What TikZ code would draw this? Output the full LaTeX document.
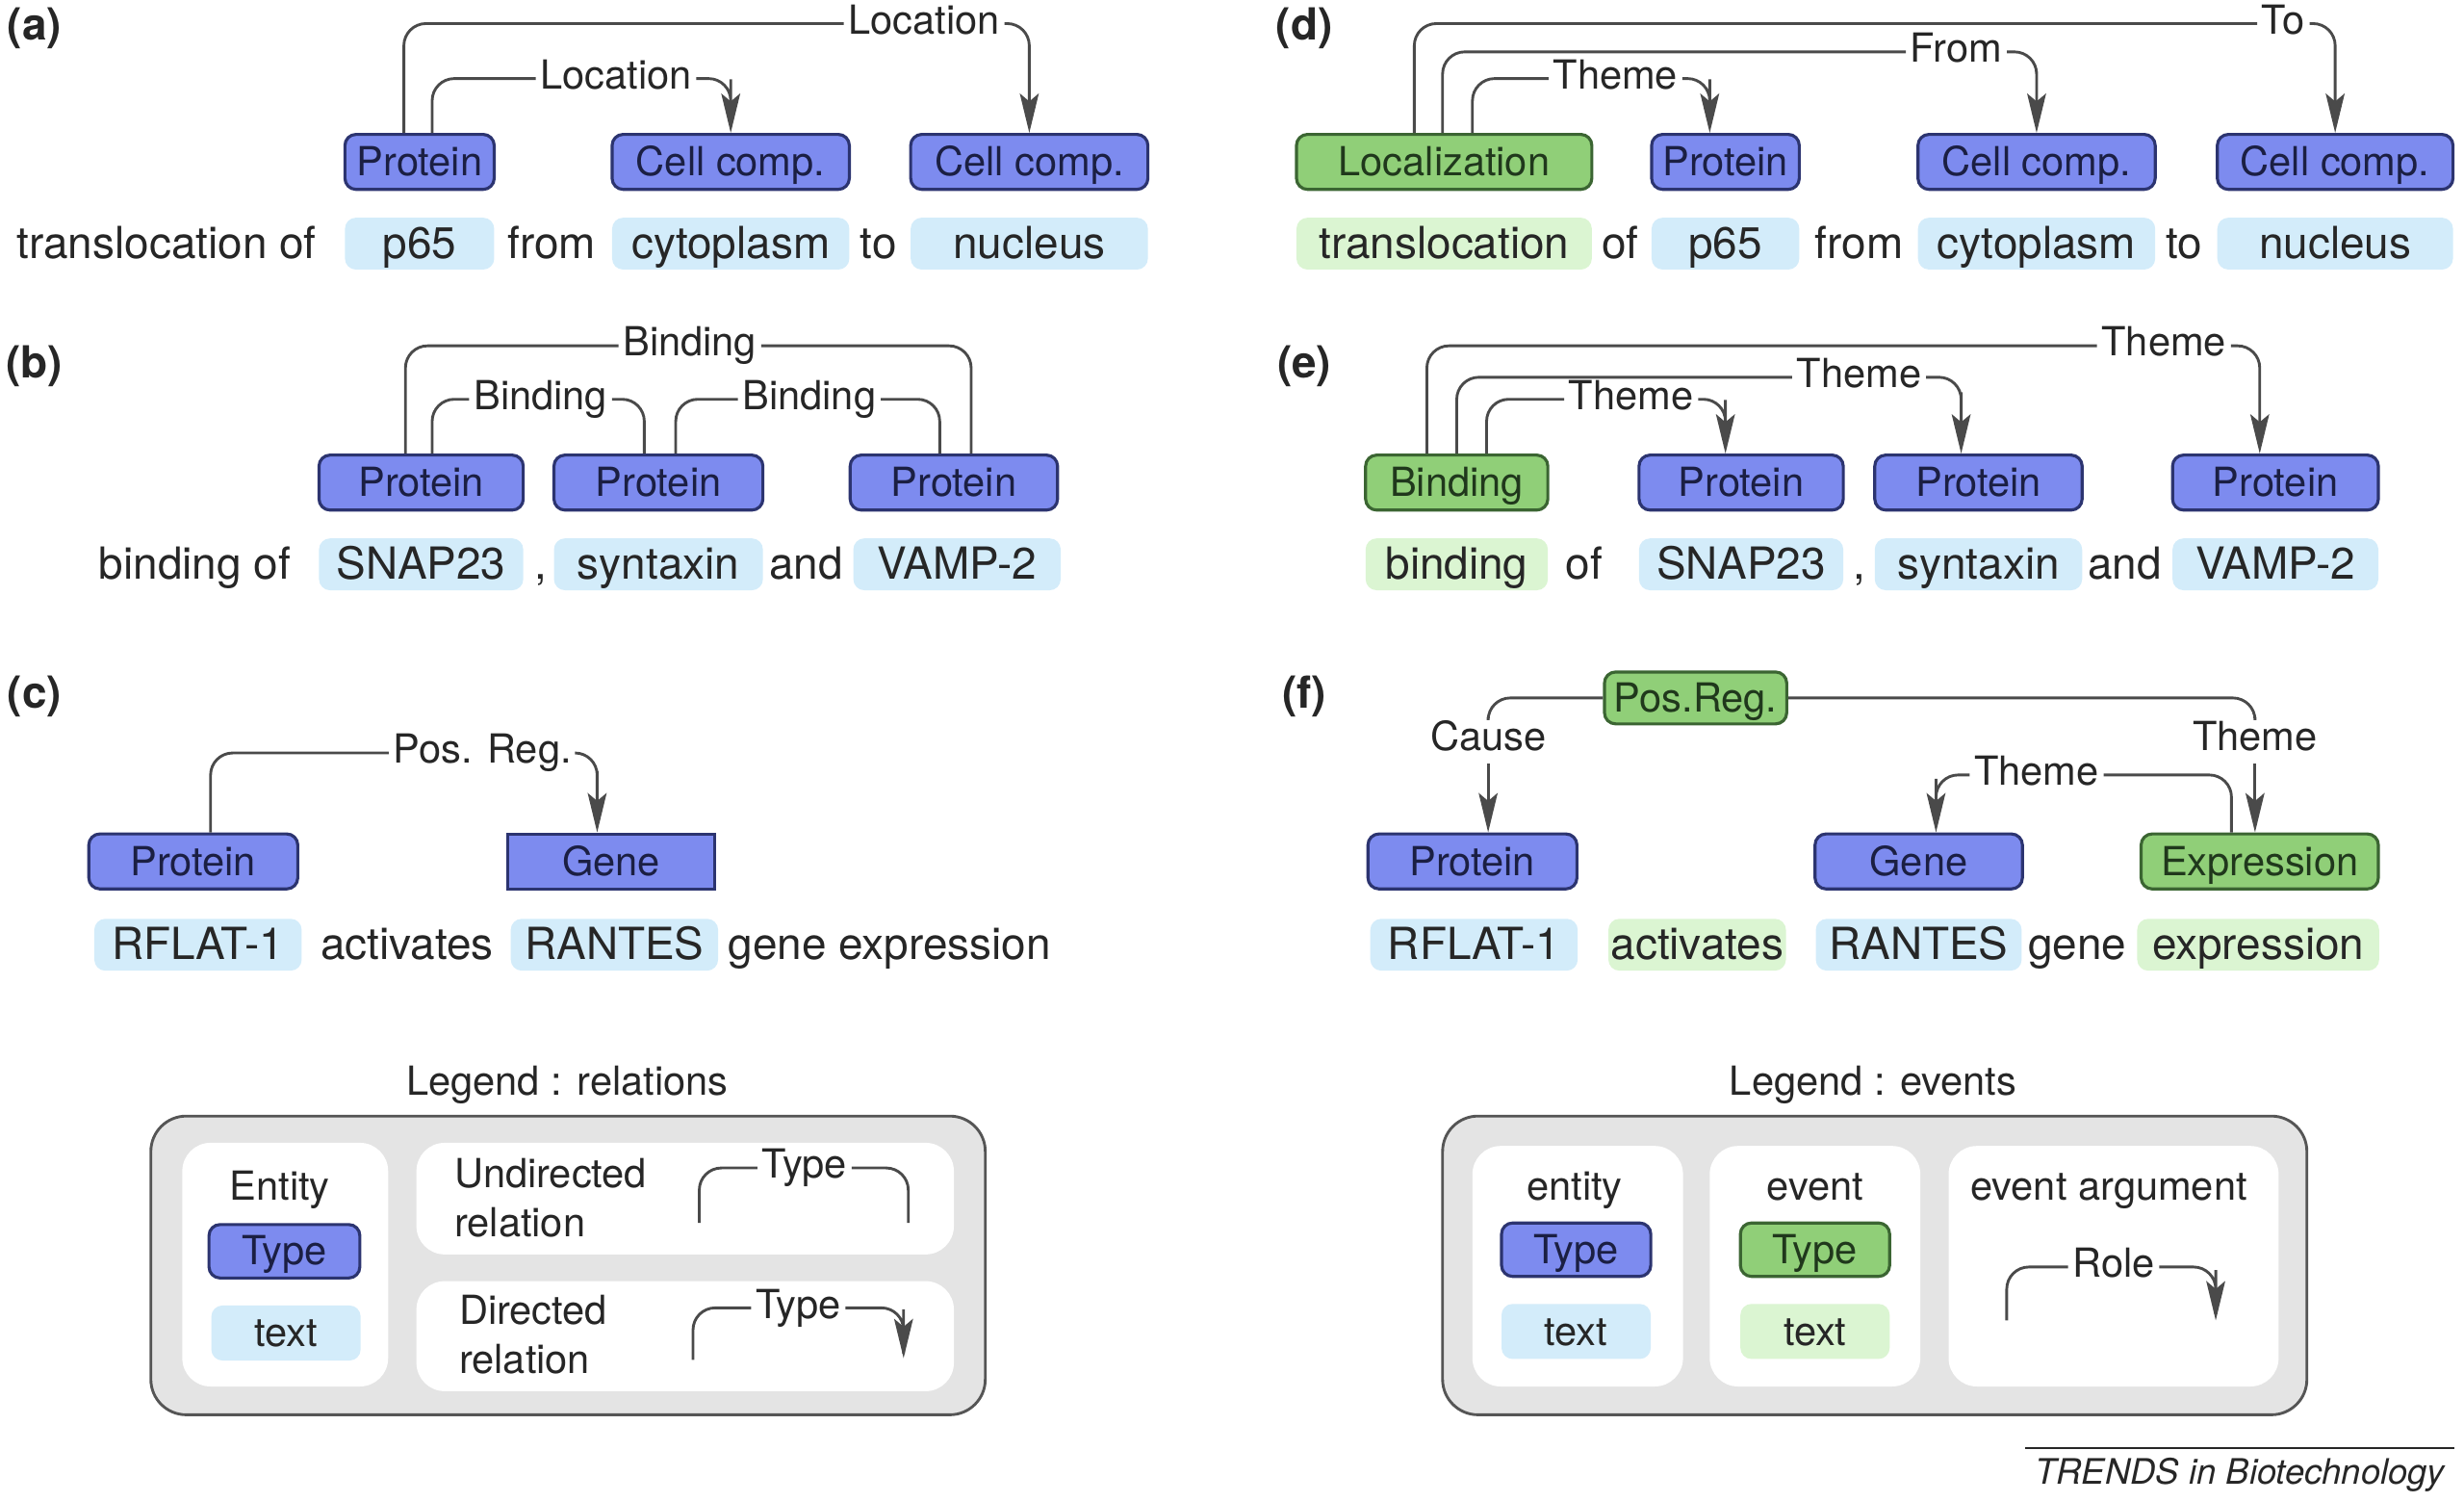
\documentclass[tikz,border=0pt]{standalone}
\usepackage{fontspec}
\setmainfont{TeX Gyre Heros}
\usetikzlibrary{arrows.meta}
\definecolor{entfill}{HTML}{7D8BEF}
\definecolor{entline}{HTML}{2C3470}
\definecolor{evfill}{HTML}{90CF78}
\definecolor{evline}{HTML}{3B6532}
\definecolor{entpale}{HTML}{D3ECFA}
\definecolor{evpale}{HTML}{DBF5D2}
\definecolor{leggray}{HTML}{E4E4E4}
\definecolor{legline}{HTML}{555555}
\definecolor{ink}{HTML}{262626}
\definecolor{relline}{HTML}{4A4A4A}
\tikzset{
  lblfont/.style={font=\fontsize{14.5}{17.6}\selectfont, text=ink},
  lbl/.style={lblfont, inner sep=1.5pt, text height=10.5pt, text depth=3pt},
  tag/.style={font=\fontsize{16}{19}\selectfont\bfseries, text=ink},
  word/.style={font=\fontsize{16}{19}\selectfont, text=ink, inner sep=0pt, text height=11.5pt, text depth=1pt},
  entbox/.style={lbl, text depth=0.5pt, rectangle, rounded corners=4pt, draw=entline, fill=entfill, line width=1.1pt, minimum height=0.7cm, text=entline!60!black},
  evbox/.style={entbox, draw=evline, fill=evfill, text=evline!55!black},
  entword/.style={word, fill=entpale, rounded corners=4pt, minimum height=0.66cm},
  evword/.style={word, fill=evpale, rounded corners=4pt, minimum height=0.66cm},
  legword/.style={lbl, text depth=0.5pt, minimum height=0.7cm, minimum width=1.9cm, rounded corners=4pt},
  rel/.style={draw=relline, line width=1pt, rounded corners=8pt},
  tiprel/.style={draw=relline, line width=1pt, -{Stealth[length=0.5cm, width=0.24cm, inset=0.1cm]}},
  dirrel/.style={rel, tiprel},
  leg/.style={fill=leggray, draw=legline, line width=1pt, rounded corners=0.45cm},
  legpanel/.style={fill=white, rounded corners=0.36cm},
}

\begin{document}
\begin{tikzpicture}[x=0.02cm, y=-0.02cm]
  \useasboundingbox (0,0) rectangle (1568,955);
  % nodes
  %% (a)
  \node[tag] (a0) at (22,18) {(a)};
  \node[entbox, minimum width=1.9cm] (a1) at (267,103) {Protein};
  \node[entbox, minimum width=3.02cm] (a2) at (465,103) {Cell comp.};
  \node[entbox, minimum width=3.02cm] (a3) at (655,103) {Cell comp.};
  \node[word] (a4) at (106,155) {translocation of};
  \node[entword, minimum width=1.9cm] (a5) at (267,155) {p65};
  \node[word] (a6) at (351,155) {from};
  \node[entword, minimum width=3.02cm] (a7) at (465,155) {cytoplasm};
  \node[word] (a8) at (559,155) {to};
  \node[entword, minimum width=3.02cm] (a9) at (655,155) {nucleus};
  \node[lbl] (a10) at (588,15) {Location};
  \node[lbl] (a11) at (392,50) {Location};
  %% (d)
  \node[tag] (d0) at (830,18) {(d)};
  \node[evbox, minimum width=3.76cm] (d1) at (919,103) {Localization};
  \node[entbox, minimum width=1.88cm] (d2) at (1098,103) {Protein};
  \node[entbox, minimum width=3.02cm] (d3) at (1296,103) {Cell comp.};
  \node[entbox, minimum width=3cm] (d4) at (1486,103) {Cell comp.};
  \node[evword, minimum width=3.76cm] (d5) at (919,155) {translocation};
  \node[word] (d6) at (1031,155) {of};
  \node[entword, minimum width=1.88cm] (d7) at (1098,155) {p65};
  \node[word] (d8) at (1183,155) {from};
  \node[entword, minimum width=3.02cm] (d9) at (1296,155) {cytoplasm};
  \node[word] (d10) at (1390,155) {to};
  \node[entword, minimum width=3cm] (d11) at (1486,155) {nucleus};
  \node[lbl] (d12) at (1453,15) {To};
  \node[lbl] (d13) at (1245,33) {From};
  \node[lbl] (d14) at (1028,50) {Theme};
  %% (b)
  \node[tag] (b0) at (22,233) {(b)};
  \node[entbox, minimum width=2.6cm] (b1) at (268,307) {Protein};
  \node[entbox, minimum width=2.66cm] (b2) at (419,307) {Protein};
  \node[entbox, minimum width=2.64cm] (b3) at (607,307) {Protein};
  \node[word] (b4) at (124,359) {binding of};
  \node[entword, minimum width=2.6cm] (b5) at (268,359) {SNAP23};
  \node[word] (b6) at (344,359) {,};
  \node[entword, minimum width=2.66cm] (b7) at (419,359) {syntaxin};
  \node[word] (b8) at (513,359) {and};
  \node[entword, minimum width=2.64cm] (b9) at (609,359) {VAMP-2};
  \node[lbl] (b10) at (439,220) {Binding};
  \node[lbl] (b11) at (344,254) {Binding};
  \node[lbl] (b12) at (515,254) {Binding};
  %% (e)
  \node[tag] (e0) at (830,233) {(e)};
  \node[evbox, minimum width=2.32cm] (e1) at (927,307) {Binding};
  \node[entbox, minimum width=2.6cm] (e2) at (1108,307) {Protein};
  \node[entbox, minimum width=2.64cm] (e3) at (1259,307) {Protein};
  \node[entbox, minimum width=2.62cm] (e4) at (1448,307) {Protein};
  \node[evword, minimum width=2.32cm] (e5) at (927,359) {binding};
  \node[word] (e6) at (1008,359) {of};
  \node[entword, minimum width=2.6cm] (e7) at (1108,359) {SNAP23};
  \node[word] (e8) at (1183,359) {,};
  \node[entword, minimum width=2.64cm] (e9) at (1259,359) {syntaxin};
  \node[word] (e10) at (1352,359) {and};
  \node[entword, minimum width=2.62cm] (e11) at (1448,359) {VAMP-2};
  \node[lbl] (e12) at (1377,220) {Theme};
  \node[lbl] (e13) at (1183,240) {Theme};
  \node[lbl] (e14) at (1038,254) {Theme};
  %% (c)
  \node[tag] (c0) at (22,443) {(c)};
  \node[entbox, minimum width=2.66cm] (c1) at (123,548) {Protein};
  \node[entbox, sharp corners, minimum width=2.64cm] (c2) at (389,548) {Gene};
  \node[entword, minimum width=2.64cm] (c3) at (126,601) {RFLAT-1};
  \node[word] (c4) at (259,601) {activates};
  \node[entword, minimum width=2.64cm] (c5) at (391,601) {RANTES};
  \node[word] (c6) at (566,601) {gene expression};
  \node[lbl] (c7) at (307,479) {Pos. Reg.};
  %% (f)
  \node[tag] (f0) at (830,443) {(f)};
  \node[evbox, minimum width=2.32cm, minimum height=0.66cm] (f1) at (1079,444) {Pos.Reg.};
  \node[entbox, minimum width=2.66cm] (f2) at (937,548) {Protein};
  \node[entbox, minimum width=2.64cm] (f3) at (1221,548) {Gene};
  \node[evbox, minimum width=3.02cm] (f4) at (1438,548) {Expression};
  \node[entword, minimum width=2.64cm] (f5) at (938,601) {RFLAT-1};
  \node[evword, minimum width=2.26cm] (f6) at (1080,601) {activates};
  \node[entword, minimum width=2.62cm] (f7) at (1221,601) {RANTES};
  \node[word] (f8) at (1322,601) {gene};
  \node[evword, minimum width=3.08cm] (f9) at (1437,601) {expression};
  \node[lbl] (f10) at (947,471) {Cause};
  \node[lbl] (f11) at (1435,471) {Theme};
  \node[lbl] (f12) at (1296,493) {Theme};
  % edges
  %% (a)
  \draw[rel] ([xshift=-0.2cm]a1.north) |- (a10.west);
  \draw[dirrel] (a10.east) -| ([yshift=0.5cm]a3.north) [sharp corners] -- (a3.north);
  \draw[rel] ([xshift=0.16cm]a1.north) |- (a11.west);
  \draw[dirrel] (a11.east) -| ([yshift=0.4cm]a2.north) [sharp corners] -- (a2.north);
  %% (d)
  \draw[rel] ([xshift=-0.38cm]d1.north) |- (d12.west);
  \draw[dirrel] (d12.east) -| ([yshift=0.5cm]d4.north) [sharp corners] -- (d4.north);
  \draw[rel] ([xshift=-0.02cm]d1.north) |- (d13.west);
  \draw[dirrel] (d13.east) -| ([yshift=0.5cm]d3.north) [sharp corners] -- (d3.north);
  \draw[rel] ([xshift=0.36cm]d1.north) |- (d14.west);
  \draw[dirrel] (d14.east) -| ([xshift=-0.2cm, yshift=0.4cm]d2.north) [sharp corners] -- ([xshift=-0.2cm]d2.north);
  %% (b)
  \draw[rel] ([xshift=-0.2cm]b1.north) |- (b10.west);
  \draw[rel] (b10.east) -| ([xshift=0.22cm]b3.north);
  \draw[rel] ([xshift=0.14cm]b1.north) |- (b11.west);
  \draw[rel] (b11.east) -| ([xshift=-0.18cm]b2.north);
  \draw[rel] ([xshift=0.22cm]b2.north) |- (b12.west);
  \draw[rel] (b12.east) -| ([xshift=-0.18cm]b3.north);
  %% (e)
  \draw[rel] ([xshift=-0.38cm]e1.north) |- (e12.west);
  \draw[dirrel] (e12.east) -| ([xshift=-0.2cm, yshift=0.5cm]e4.north) [sharp corners] -- ([xshift=-0.2cm]e4.north);
  \draw[rel] (e1.north) |- (e13.west);
  \draw[dirrel] (e13.east) -| ([xshift=-0.22cm, yshift=0.5cm]e3.north) [sharp corners] -- ([xshift=-0.22cm]e3.north);
  \draw[rel] ([xshift=0.38cm]e1.north) |- (e14.west);
  \draw[dirrel] (e14.east) -| ([xshift=-0.2cm, yshift=0.4cm]e2.north) [sharp corners] -- ([xshift=-0.2cm]e2.north);
  %% (c)
  \draw[rel] ([xshift=0.22cm]c1.north) |- (c7.west);
  \draw[dirrel] (c7.east) -| ([xshift=-0.18cm, yshift=0.5cm]c2.north) [sharp corners] -- ([xshift=-0.18cm]c2.north);
  %% (f)
  \draw[rel] (f1.west) -| (f10.north);
  \draw[tiprel] (f10.south) -- (f10.south |- f2.north);
  \draw[rel] (f1.east) -| (f11.north);
  \draw[tiprel] (f11.south) -- (f11.south |- f4.north);
  \draw[rel] ([xshift=-0.36cm]f4.north) |- (f12.east);
  \draw[dirrel] (f12.west) -| ([xshift=0.22cm, yshift=0.4cm]f3.north) [sharp corners] -- ([xshift=0.22cm]f3.north);
  % legend : relations
  \node[lbl] (r0) at (361,690) {Legend : relations};
  \path[leg] (96,710) rectangle (627,900);
  \fill[legpanel] (116,727) rectangle (247,882);
  \fill[legpanel] (265,727) rectangle (607,798);
  \fill[legpanel] (265,815) rectangle (607,885);
  \node[lbl] (r1) at (178,757) {Entity};
  \node[entbox, minimum width=1.92cm, minimum height=0.68cm] (r2) at (181,796) {Type};
  \node[legword, fill=entpale] (r3) at (182,848) {text};
  \node[lblfont, align=left, anchor=west] (r4) at (283,762) {Undirected\\relation};
  \coordinate (r5) at (445,778);
  \coordinate (r6) at (578,778);
  \node[lbl] (r7) at (512,743) {Type};
  \draw[rel] (r5) |- (r7.west);
  \draw[rel] (r7.east) -| (r6);
  \node[lblfont, align=left, anchor=west] (r8) at (286,849) {Directed\\relation};
  \coordinate (r9) at (441,865);
  \coordinate (r10) at (575,864);
  \node[lbl] (r11) at (508,832) {Type};
  \draw[rel] (r9) |- (r11.west);
  \draw[dirrel] (r11.east) -| ([yshift=0.34cm]r10) [sharp corners] -- (r10);
  % legend : events
  \node[lbl] (v0) at (1192,690) {Legend : events};
  \path[leg] (918,710) rectangle (1468,900);
  \fill[legpanel] (937,729) rectangle (1071,882);
  \fill[legpanel] (1088,729) rectangle (1222,882);
  \fill[legpanel] (1240,729) rectangle (1450,882);
  \node[lbl] (v1) at (1002,757) {entity};
  \node[entbox, minimum width=1.9cm, minimum height=0.68cm] (v2) at (1003,795) {Type};
  \node[legword, fill=entpale] (v3) at (1003,847) {text};
  \node[lbl] (v4) at (1155,757) {event};
  \node[evbox, minimum width=1.9cm, minimum height=0.68cm] (v5) at (1155,795) {Type};
  \node[legword, fill=evpale] (v6) at (1155,847) {text};
  \node[lbl] (v7) at (1342,757) {event argument};
  \coordinate (v8) at (1277,840);
  \coordinate (v9) at (1410,840);
  \node[lbl] (v10) at (1345,806) {Role};
  \draw[rel] (v8) |- (v10.west);
  \draw[dirrel] (v10.east) -| ([yshift=0.36cm]v9) [sharp corners] -- (v9);
  % footer
  \node[lblfont, font=\fontsize{12.7}{15}\selectfont\itshape, anchor=east] (t0) at (1562,938) {TRENDS in Biotechnology};
  \draw[ink, line width=0.6pt] (t0.north west) -- (t0.north east);
\end{tikzpicture}
\end{document}
